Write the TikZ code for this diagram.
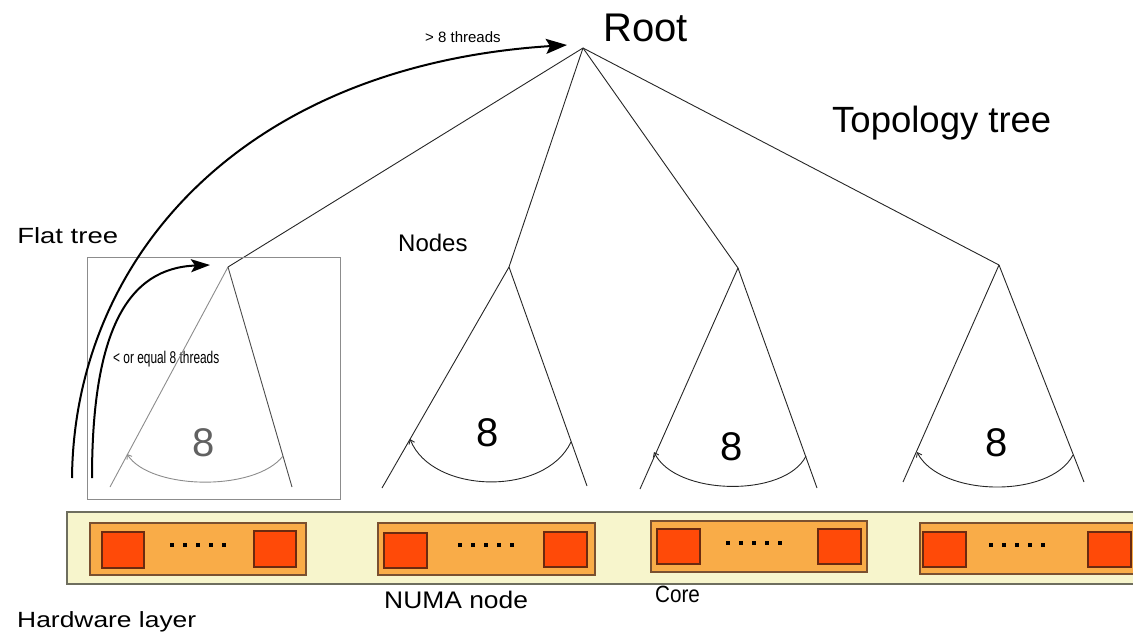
\documentclass[tikz,border=0pt]{standalone}
\usepackage{fontspec}
\setmainfont{Liberation Sans}
\usetikzlibrary{arrows.meta}
\definecolor{hwbg}{HTML}{F7F5CC}
\definecolor{hwborder}{HTML}{6E6E5E}
\definecolor{numafill}{HTML}{F9AC48}
\definecolor{numaborder}{HTML}{7A5030}
\definecolor{corefill}{HTML}{FF4A08}
\definecolor{coreborder}{HTML}{6B2A10}
\definecolor{flatgray}{HTML}{8C8C8C}
\tikzset{
  treeline/.style={draw=black!85, line width=0.9pt},
  flatline/.style={draw=flatgray, line width=0.9pt},
  countarc/.style={draw=black!85, line width=0.9pt, {Straight Barb[length=4pt,width=6pt]}-},
  flowarrow/.style={draw=black, line width=2pt, -{Stealth[length=21pt,width=15pt,inset=4pt]}},
  lbl/.style={inner sep=0pt, anchor=base west, text=black},
  eight/.style={inner sep=0pt, font=\fontsize{40}{40}\selectfont},
  hwlayer/.style={draw=hwborder, fill=hwbg, line width=1.2pt},
  numabox/.style={draw=numaborder, fill=numafill, line width=1.2pt},
  corebox/.style={draw=coreborder, fill=corefill, line width=1.2pt},
  dot/.style={fill=black, minimum size=4pt, inner sep=0pt, draw=none}
}
\begin{document}
\begin{tikzpicture}[x=1pt,y=-1pt]
\useasboundingbox (0,0) rectangle (1133,634);
\clip (0,0) rectangle (1133,634);

% ---------- texts ----------
\node[lbl, font=\fontsize{40}{40}\selectfont] (roottxt) at (603,42) {Root};
\node[lbl, font=\fontsize{15}{15}\selectfont] (gt8) at (425,43) {> 8 threads};
\node[lbl, font=\fontsize{36.5}{36.5}\selectfont] (topo) at (832,132) {Topology tree};
\node[lbl, font=\fontsize{22}{22}\selectfont, xscale=1.25] (flat) at (17,243) {Flat tree};
\node[lbl, font=\fontsize{24}{24}\selectfont] (nodestxt) at (398,251) {Nodes};
\node[lbl, font=\fontsize{17}{17}\selectfont, xscale=0.7] (le8) at (113,363) {< or equal 8 threads};
\node[lbl, font=\fontsize{22}{22}\selectfont, xscale=1.2] (hwtxt) at (17,627) {Hardware layer};
\node[lbl, font=\fontsize{24}{24}\selectfont, xscale=1.1] (numatxt) at (384,608) {NUMA node};
\node[lbl, font=\fontsize{23.5}{23.5}\selectfont, xscale=0.88] (coretxt) at (655,602) {Core};

% ---------- tree coordinates ----------
\coordinate (r) at (583,48);
\coordinate (a1) at (228,267);
\coordinate (a2) at (509,267);
\coordinate (a3) at (738,268);
\coordinate (a4) at (999,265);

% root edges
\draw[treeline] (r) -- (a1);
\draw[treeline] (r) -- (a2);
\draw[treeline] (r) -- (a3);
\draw[treeline] (r) -- (a4);

% ---------- flat tree box ----------
\draw[draw=flatgray, line width=1pt] (87,257) rectangle (340,499);

% subtree 1 (flat, gray)
\coordinate (l1) at (110,487);
\coordinate (r1) at (292,487);
\draw[flatline] (a1) -- (l1);
\draw[treeline, draw=black!70] (a1) -- (r1);
\coordinate (s1) at (127,454);
\coordinate (e1) at (283,456);
\draw[countarc, draw=flatgray] (s1) .. controls (150,490) and (255,492) .. (e1);
\node[eight, text=black!62] (n1) at (204,443) {8};

% subtree 2
\coordinate (l2) at (382,488);
\coordinate (r2) at (587,486);
\draw[treeline] (a2) -- (l2);
\draw[treeline] (a2) -- (r2);
\coordinate (s2) at (410,439);
\coordinate (e2) at (571,442);
\draw[countarc] (s2) .. controls (432,494) and (545,497) .. (e2);
\node[eight] (n2) at (488,433) {8};

% subtree 3
\coordinate (l3) at (640,489);
\coordinate (r3) at (817,488);
\draw[treeline] (a3) -- (l3);
\draw[treeline] (a3) -- (r3);
\coordinate (s3) at (654,452);
\coordinate (e3) at (806,456);
\draw[countarc] (s3) .. controls (675,496) and (785,498) .. (e3);
\node[eight] (n3) at (732,447) {8};

% subtree 4
\coordinate (l4) at (903,482);
\coordinate (r4) at (1084,482);
\draw[treeline] (a4) -- (l4);
\draw[treeline] (a4) -- (r4);
\coordinate (s4) at (917,452);
\coordinate (e4) at (1073,455);
\draw[countarc] (s4) .. controls (940,497) and (1050,499) .. (e4);
\node[eight] (n4) at (997,443) {8};

% ---------- flow arrows ----------
\coordinate (o0) at (72,478);
\coordinate (o1) at (567,45);
\draw[flowarrow] (o0) .. controls (74,260) and (240,66) .. (o1);
\coordinate (i0) at (92,478);
\coordinate (i1) at (210,265);
\draw[flowarrow, -{Stealth[length=19pt,width=13pt,inset=4pt]}] (i0) .. controls (92,330) and (128,268) .. (i1);

% ---------- hardware layer ----------
\draw[hwlayer] (67,512) rectangle (1145,584);

% NUMA node 1
\draw[numabox] (90,523) rectangle (306,575);
\draw[corebox] (102,532) rectangle (144,568);
\draw[corebox] (254,531) rectangle (296,567);
\foreach \k in {0,...,4} \node[dot] at ({172+13*\k},545) {};

% NUMA node 2
\draw[numabox] (378,523) rectangle (595,575);
\draw[corebox] (384,533) rectangle (427,568);
\draw[corebox] (544,532) rectangle (587,567);
\foreach \k in {0,...,4} \node[dot] at ({460+13*\k},545) {};

% NUMA node 3
\draw[numabox] (651,521) rectangle (867,572);
\draw[corebox] (657,529) rectangle (700,564);
\draw[corebox] (818,529) rectangle (861,564);
\foreach \k in {0,...,4} \node[dot] at ({728+13*\k},543) {};

% NUMA node 4
\draw[numabox] (920,523) rectangle (1150,574);
\draw[corebox] (923,532) rectangle (966,567);
\draw[corebox] (1088,532) rectangle (1131,567);
\foreach \k in {0,...,4} \node[dot] at ({991+13*\k},545) {};
\end{tikzpicture}
\end{document}
